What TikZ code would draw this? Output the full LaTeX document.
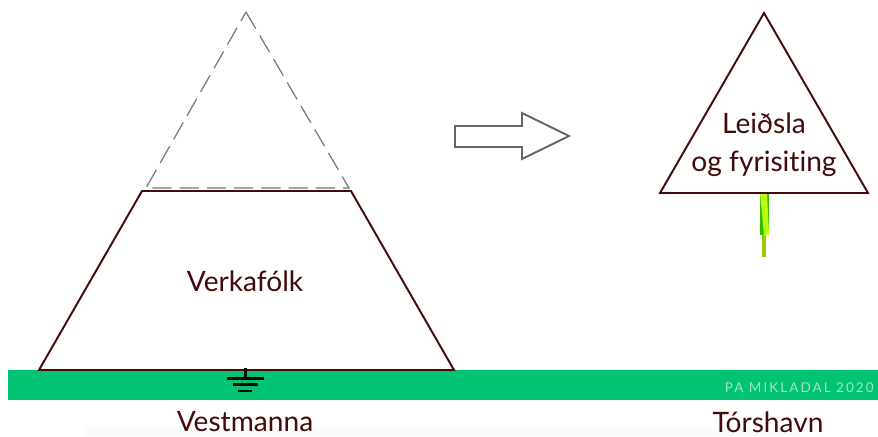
\documentclass[tikz,border=0pt]{standalone}
\usepackage{xcolor}
\usepackage{fontspec}
\setmainfont{Lato}[Ligatures=NoCommon]
\newfontfamily\creditfont[LetterSpace=15]{Lato}
\definecolor{maroon}{HTML}{420A0A}
\definecolor{ground}{HTML}{00C472}
\definecolor{credit}{HTML}{A2E6C8}
\definecolor{arrowgray}{HTML}{666666}
\definecolor{dashgray}{HTML}{777777}
\definecolor{stemdark}{HTML}{33BB00}
\definecolor{stemlight}{HTML}{BBFF11}
\definecolor{stemlow}{HTML}{9CCB08}
\begin{document}
\begin{tikzpicture}[x=0.02cm,y=-0.02cm,
    label/.style={text=maroon,font=\fontsize{16}{21.6}\selectfont,align=center,inner sep=0pt},
    outline/.style={draw=maroon,line width=1.1pt,line join=miter}]
\useasboundingbox (0,0) rectangle (878,436);

% Faint strip under the place names
\fill[black!2] (86,428) rectangle (800,436);

% Green ground band
\fill[ground] (8,370) rectangle (878,400);
\node[anchor=east,inner sep=0pt,text=credit,font=\creditfont\fontsize{7.7}{9}\selectfont] (credit) at (874,388) {PA MIKLADAL 2020};

% Dashed triangle that has been moved away
\draw[dashgray,dash pattern=on 11pt off 4.5pt,line width=0.7pt] (246,12) -- (349,188) -- (146,188) -- cycle;

% Workers left behind
\draw[outline] (39,370) -- (142,191) -- (351,191) -- (454,370) -- cycle;
\node[label] (workers) at (245,281) {Verkafólk};

% Earth symbol
\draw[black,line width=1.6pt] (245.5,368) -- (245.5,378.5);
\draw[black,line width=1.6pt] (227,378.5) -- (264,378.5);
\draw[black,line width=1.6pt] (233,384.5) -- (258,384.5);
\draw[black,line width=1.6pt] (238,391) -- (252,391);

% Big arrow
\draw[arrowgray,line width=1.1pt,line join=miter] (455,126) -- (522,126) -- (522,113) -- (569,136) -- (522,159) -- (522,147) -- (455,147) -- cycle;

% Small green stem
\fill[stemlow] (762,235) rectangle (766,257);
\fill[stemdark] (759.5,193) rectangle (769,235);
\fill[stemlight] (760,193) -- (767,193) -- (769,235) -- (764,235) -- cycle;

% Management in the capital
\draw[outline] (764,13) -- (868,193) -- (660,193) -- cycle;
\node[label] (management) at (764,144.5) {Leiðsla\\og fyrisiting};

% Place names
\node[label] (west) at (245,422) {Vestmanna};
\node[label] (east) at (768,422) {Tórshavn};
\end{tikzpicture}
\end{document}
